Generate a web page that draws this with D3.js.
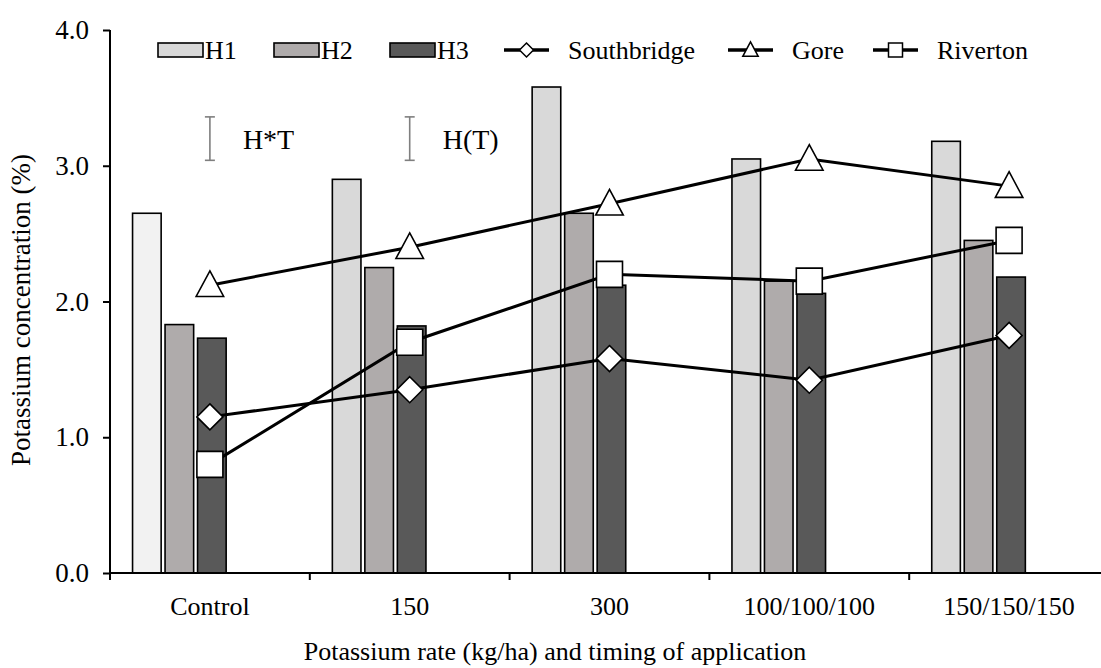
<!DOCTYPE html>
<html>
<head>
<meta charset="utf-8">
<script src="https://cdn.jsdelivr.net/npm/d3@7"></script>
<style>
  body { margin: 0; background: #fff; }
  svg text { font-family: "Liberation Serif", "Times New Roman", serif !important; fill: #000; }
</style>
</head>
<body>
<script>
// Dati
var categories = ["Control", "150", "300", "100/100/100", "150/150/150"];
var barSeries = ["H1", "H2", "H3"];
var h1 = [2.65, 2.90, 3.58, 3.05, 3.18];
var h2 = [1.83, 2.25, 2.65, 2.15, 2.45];
var h3 = [1.73, 1.82, 2.12, 2.06, 2.18];
var lineSeries = ["Southbridge", "Gore", "Riverton"];
var southbridge = [1.15, 1.35, 1.58, 1.42, 1.75];
var gore = [2.12, 2.40, 2.72, 3.05, 2.85];
var riverton = [0.80, 1.70, 2.20, 2.15, 2.45];
var yTicks = [0, 1, 2, 3, 4];
// barre di errore (LSD)
var lsdLabels = ["H*T", "H(T)"];
var lsdCats = ["Control", "150"];
var lsdCenter = 3.2;
var lsdLength = 0.32;

var width = 1101, height = 668;
var margin = { top: 30, right: -8, bottom: 95, left: 110 };

var svg = d3.select("body").append("svg")
  .attr("width", width)
  .attr("height", height)
  .attr("font-family", "Liberation Serif, Times New Roman, serif");

var x = d3.scaleBand()
  .domain(categories)
  .range([margin.left, width - margin.right]);

var y = d3.scaleLinear()
  .domain([0, 4])
  .range([height - margin.bottom, margin.top]);

// scala per le barre dentro ogni gruppo
var xSub = d3.scaleBand()
  .domain(barSeries)
  .range([0, 97.5])
  .paddingInner(0.12)
  .paddingOuter(0.06);

var barValues = { H1: h1, H2: h2, H3: h3 };
var barColors = { H1: "#d9d9d9", H2: "#afabab", H3: "#595959" };
var lineValues = { Southbridge: southbridge, Gore: gore, Riverton: riverton };
var markerType = { Southbridge: "diamond", Gore: "triangle", Riverton: "square" };

var barData = [];
barSeries.forEach(function (s) {
  categories.forEach(function (c, i) {
    barData.push({ serie: s, cat: c, value: barValues[s][i] });
  });
});

function cx(c) { return x(c) + x.bandwidth() / 2; }

// Barre
svg.append("g")
  .selectAll("rect")
  .data(barData)
  .enter()
  .append("rect")
  .attr("x", function (d) { return cx(d.cat) - 79.3 + xSub(d.serie); })
  .attr("y", function (d) { return y(d.value); })
  .attr("width", xSub.bandwidth())
  .attr("height", function (d) { return y(0) - y(d.value); })
  .attr("fill", function (d) {
    if (d.serie === "H1" && d.cat === "Control") return "#f2f2f2";
    return barColors[d.serie];
  })
  .attr("stroke", "#000")
  .attr("stroke-width", 1.6);

// Assi
var yAxis = d3.axisLeft(y).tickValues(yTicks).tickSize(7).tickPadding(14)
  .tickFormat(d3.format(".1f"));
var gy = svg.append("g")
  .attr("transform", "translate(" + margin.left + ",0)")
  .call(yAxis)
  .attr("font-family", null);
gy.select(".domain").attr("d", "M0," + y(4) + "V" + y(0));

var gx = svg.append("g")
  .attr("transform", "translate(0," + y(0) + ")");
gx.append("line")
  .attr("x1", margin.left).attr("x2", width)
  .attr("stroke", "#000").attr("stroke-width", 2);
var boundaries = categories.map(function (c) { return x(c); });
gx.selectAll("line.tick")
  .data(boundaries)
  .enter()
  .append("line")
  .attr("class", "tick")
  .attr("x1", function (d) { return d; })
  .attr("x2", function (d) { return d; })
  .attr("y1", 0).attr("y2", 7)
  .attr("stroke", "#000").attr("stroke-width", 2);
gx.selectAll("text")
  .data(categories)
  .enter()
  .append("text")
  .attr("x", function (d) { return cx(d); })
  .attr("y", 42)
  .attr("text-anchor", "middle")
  .style("font-size", "26px")
  .text(function (d) { return d; });

gy.selectAll(".domain, .tick line").attr("stroke", "#000").attr("stroke-width", 2);
gy.selectAll(".tick text")
  .style("font-size", "27px");

// Titoli degli assi
svg.append("text")
  .attr("x", 555)
  .attr("y", 660)
  .attr("text-anchor", "middle")
  .style("font-size", "26px")
  .text("Potassium rate (kg/ha) and timing of application");

svg.append("text")
  .attr("transform", "translate(30," + 310 + ") rotate(-90)")
  .attr("text-anchor", "middle")
  .style("font-size", "27px")
  .text("Potassium concentration (%)");

// Barre di errore
lsdCats.forEach(function (c, i) {
  var g = svg.append("g").attr("stroke", "#7f7f7f").attr("stroke-width", 1.6);
  var xx = cx(c);
  var y1 = y(lsdCenter + lsdLength / 2), y2 = y(lsdCenter - lsdLength / 2);
  g.append("line").attr("x1", xx).attr("x2", xx).attr("y1", y1).attr("y2", y2);
  g.append("line").attr("x1", xx - 5).attr("x2", xx + 5).attr("y1", y1).attr("y2", y1);
  g.append("line").attr("x1", xx - 5).attr("x2", xx + 5).attr("y1", y2).attr("y2", y2);
  svg.append("text")
    .attr("x", xx + 33)
    .attr("y", y(lsdCenter) + 10)
    .style("font-size", "28px")
    .text(lsdLabels[i]);
});

// Simboli
function markerPath(type, s) {
  if (type === "diamond") return "M0," + (-s) + "L" + s + ",0L0," + s + "L" + (-s) + ",0Z";
  if (type === "triangle") return "M0," + (-s * 1.15) + "L" + (s * 1.1) + "," + (s * 0.9) + "L" + (-s * 1.1) + "," + (s * 0.9) + "Z";
  return "M" + (-s) + "," + (-s) + "H" + s + "V" + s + "H" + (-s) + "Z";
}

var line = d3.line()
  .x(function (d) { return cx(d.cat); })
  .y(function (d) { return y(d.value); });

lineSeries.forEach(function (s) {
  var pts = categories.map(function (c, i) { return { cat: c, value: lineValues[s][i] }; });
  svg.append("path")
    .datum(pts)
    .attr("d", line)
    .attr("fill", "none")
    .attr("stroke", "#000")
    .attr("stroke-width", 3);
});

lineSeries.forEach(function (s) {
  var pts = categories.map(function (c, i) { return { cat: c, value: lineValues[s][i] }; });
  var size = markerType[s] === "diamond" ? 13 : (markerType[s] === "triangle" ? 12.5 : 13);
  svg.append("g")
    .selectAll("path")
    .data(pts)
    .enter()
    .append("path")
    .attr("transform", function (d) { return "translate(" + cx(d.cat) + "," + y(d.value) + ")"; })
    .attr("d", markerPath(markerType[s], size))
    .attr("fill", "#fff")
    .attr("stroke", "#000")
    .attr("stroke-width", 1.6);
});

// Legenda
var legend = svg.append("g").attr("transform", "translate(0,50)");
var legBars = [
  { name: "H1", x: 158 },
  { name: "H2", x: 274 },
  { name: "H3", x: 390 }
];
legBars.forEach(function (d) {
  legend.append("rect")
    .attr("x", d.x).attr("y", -7)
    .attr("width", 45).attr("height", 14)
    .attr("fill", barColors[d.name])
    .attr("stroke", "#000").attr("stroke-width", 1.6);
  legend.append("text")
    .attr("x", d.x + 47).attr("y", 9)
    .style("font-size", "26px")
    .text(d.name);
});
var legLines = [
  { name: "Southbridge", x: 504 },
  { name: "Gore", x: 728 },
  { name: "Riverton", x: 873 }
];
legLines.forEach(function (d) {
  legend.append("line")
    .attr("x1", d.x).attr("x2", d.x + 45)
    .attr("stroke", "#000").attr("stroke-width", 3.5);
  legend.append("path")
    .attr("transform", "translate(" + (d.x + 22.5) + ",0)")
    .attr("d", markerPath(markerType[d.name], 7))
    .attr("fill", "#fff")
    .attr("stroke", "#000")
    .attr("stroke-width", 1.5);
  legend.append("text")
    .attr("x", d.x + 64).attr("y", 9)
    .style("font-size", "26px")
    .text(d.name);
});
</script>
</body>
</html>
